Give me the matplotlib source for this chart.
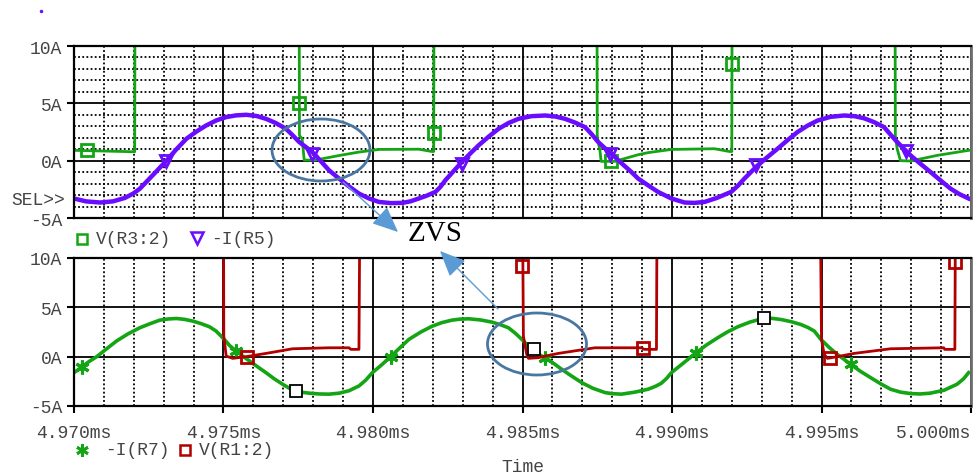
import numpy as np
import matplotlib.pyplot as plt
from matplotlib.patches import Ellipse
from matplotlib.ticker import FixedLocator

T0 = 4.970  # ms, left end of the time axis

# upper plot, times in us after T0
t_r3 = [0, 1.97, 2.03, 2.04, 7.53, 7.54, 7.63, 7.70, 8.07, 8.87, 9.53, 10.2, 11.53, 11.97, 12.03,
        12.04, 17.49, 17.50, 17.59, 17.63, 18.09, 18.87, 19.2, 19.98, 21.42, 21.92, 22.0,
        22.01, 27.46, 27.47, 27.53, 27.64, 27.98, 28.87, 29.92, 30.0]
v_r3 = [0.9, 0.78, 0.78, 15, 15, 2.2, 1.9, 0.05, 0.05, 0.45, 0.75, 0.98, 1.0, 0.8, 0.8,
        15, 15, 2.06, 0.9, -0.06, -0.06, 0.52, 0.7, 0.98, 1.04, 0.8, 0.8,
        15, 15, 2.2, 1.04, 0.0, -0.03, 0.46, 0.9, 0.92]
mk_r3_t = [0.43, 7.53, 12.03, 17.96, 22.0]
mk_r3_v = [0.95, 5.0, 2.4, -0.06, 8.4]

t_r5 = [0, 0.4, 0.87, 1.3, 1.7, 1.98, 2.2, 2.42, 2.75, 3.09, 3.42, 3.76, 4.1, 4.42, 4.75,
        5.09, 5.42, 5.76, 6.1, 6.42, 6.75, 7.09, 7.3, 7.53, 7.8, 8.03, 8.28, 8.53, 8.87,
        9.2, 9.53, 9.87, 10.2, 10.6, 10.98, 11.25, 11.53, 11.8, 12.09, 12.25, 12.42, 12.7,
        12.98, 13.25, 13.53, 13.87, 14.2, 14.53, 14.87, 15.3, 15.76, 16.1, 16.42, 16.75,
        17.09, 17.3, 17.53, 17.75, 17.98, 18.3, 18.64, 18.87, 19.2, 19.53, 19.98, 20.42,
        20.75, 21.09, 21.5, 21.98, 22.2, 22.42, 22.87, 23.2, 23.53, 23.87, 24.2, 24.53,
        24.87, 25.3, 25.76, 26.1, 26.42, 26.75, 27.09, 27.3, 27.53, 27.75, 27.98, 28.3,
        28.64, 28.98, 29.31, 29.6, 29.92]
i_r5 = [-3.3, -3.55, -3.65, -3.55, -3.25, -2.87, -2.45, -1.85, -0.95, 0.0, 0.98, 1.91, 2.55,
        3.07, 3.5, 3.8, 3.95, 4.0, 3.9, 3.65, 3.28, 2.78, 2.25, 1.63, 1.1, 0.6, -0.12, -0.84,
        -1.57, -2.25, -2.87, -3.3, -3.6, -3.7, -3.68, -3.55, -3.3, -3.05, -2.72, -2.3, -1.71,
        -0.9, -0.1, 0.62, 1.33, 2.1, 2.78, 3.28, 3.65, 3.88, 3.94, 3.85, 3.65, 3.33,
        2.93, 2.35, 1.63, 1.1, 0.6, -0.2, -0.98, -1.57, -2.15, -2.72, -3.3, -3.65,
        -3.68, -3.6, -3.25, -2.72, -2.2, -1.57, -0.4, 0.33, 1.04, 1.8, 2.5, 3.05,
        3.5, 3.82, 3.94, 3.88, 3.7, 3.37, 2.93, 2.3, 1.63, 1.05, 0.46, -0.25,
        -0.98, -1.72, -2.43, -2.9, -3.3]
mk_r5_t = [3.09, 7.97, 12.97, 17.92, 22.8, 27.83]
mk_r5_v = [0.0, 0.6, -0.26, 0.6, -0.4, 0.82]

# lower plot
t_r7 = [0, 0.26, 0.5, 0.76, 1.1, 1.42, 1.8, 2.2, 2.55, 2.87, 3.15, 3.42, 3.7, 3.98, 4.25,
        4.53, 4.75, 4.92, 5.07, 5.2, 5.42, 5.65, 5.87, 6.15, 6.42, 6.7, 6.98, 7.2, 7.42,
        7.65, 7.87, 8.2, 8.53, 8.87, 9.2, 9.53, 9.75, 9.98, 10.3, 10.59, 10.9, 11.2, 11.6,
        11.98, 12.3, 12.64, 12.9, 13.2, 13.6, 13.98, 14.25, 14.53, 14.75, 14.98, 15.2,
        15.42, 15.76, 16.05, 16.31, 16.65, 16.98, 17.35, 17.76, 18.0, 18.31, 18.75, 19.2,
        19.45, 19.64, 19.82, 19.98, 20.4, 20.81, 21.15, 21.53, 21.85, 22.2, 22.6, 23.07,
        23.35, 23.64, 23.98, 24.31, 24.55, 24.76, 24.98, 25.25, 25.53, 25.98, 26.3, 26.64,
        26.98, 27.31, 27.65, 27.98, 28.3, 28.64, 29.1, 29.53, 29.75, 29.92]
i_r7 = [-1.62, -1.05, -0.5, 0.0, 0.82, 1.58, 2.3, 2.93, 3.35, 3.7, 3.82, 3.87, 3.78, 3.6, 3.35,
        3.03, 2.6, 2.08, 1.6, 1.14, 0.57, 0.05, -0.44, -1.05, -1.62, -2.25, -2.8, -3.2, -3.47,
        -3.62, -3.7, -3.78, -3.8, -3.7, -3.45, -2.97, -2.4, -1.62, -0.8, 0.0, 0.9, 1.75, 2.5,
        3.09, 3.45, 3.7, 3.8, 3.84, 3.72, 3.5, 3.25, 2.93, 2.4, 1.75, 1.05,
        0.4, -0.1, -0.7, -1.28, -1.98, -2.63, -3.2, -3.64, -3.75, -3.8, -3.6, -3.3,
        -3.0, -2.7, -2.2, -1.62, -0.6, 0.4, 1.18, 1.92, 2.5, 3.03, 3.5, 3.9,
        3.88, 3.77, 3.55, 3.26, 2.95, 2.59, 1.75, 0.95, 0.23, -0.78, -1.48, -2.12,
        -2.75, -3.3, -3.6, -3.74, -3.78, -3.7, -3.4, -2.8, -2.25, -1.62]
mk_r7_t = [0.26, 5.42, 10.59, 15.76, 20.81, 25.98]
mk_r7_v = [-1.05, 0.57, 0.0, -0.1, 0.4, -0.78]

t_r1 = [0, 5.0, 5.01, 5.09, 5.31, 5.76, 6.42, 7.31, 8.53, 9.2, 9.26, 9.53, 9.56,
        15.0, 15.03, 15.14, 15.2, 15.53, 15.76, 16.2, 17.42, 18.98, 19.07, 19.48, 19.5,
        24.96, 25.0, 25.09, 25.2, 25.53, 26.09, 27.31, 29.09, 29.12, 29.46, 29.48, 30.0]
v_r1 = [15, 15, 2.08, 0.06, -0.17, 0.0, 0.33, 0.8, 0.9, 0.9, 0.74, 0.74, 15,
        15, 2.08, 0.23, -0.17, -0.1, 0.06, 0.33, 0.9, 0.9, 0.74, 0.74, 15,
        15, 1.75, 0.23, -0.17, 0.0, 0.33, 0.8, 0.9, 0.74, 0.74, 15, 15]
mk_r1_t = [5.78, 15.0, 19.03, 25.29, 29.48]
mk_r1_v = [0.0, 9.2, 0.9, -0.17, 9.55]

# hollow black squares on the lower plot
mk_k_t = [7.42, 15.37, 23.07]
mk_k_v = [-3.47, 0.74, 3.9]

ticks_ms = np.round(T0 + np.arange(7) * 0.005, 3)
tick_names = ['%.3fms' % v for v in ticks_ms]

GREEN = '#14a514'
PURPLE = '#6a0cff'
RED = '#b00000'
TXT = '#444444'
MONO = 'Liberation Mono'


def ms(us):
    return T0 + np.array(us) / 1000.0


W, H = 973, 477
fig = plt.figure(figsize=(W / 100, H / 100), dpi=100)


def px_axes(left, top, right, bottom):
    return fig.add_axes([left / W, 1 - bottom / H, (right - left) / W, (bottom - top) / H])


def style(ax, hminor):
    ax.set_xlim(T0, 5.000)
    ax.set_ylim(-5, 10)
    ax.xaxis.set_major_locator(FixedLocator(ticks_ms))
    ax.xaxis.set_minor_locator(FixedLocator(np.round(T0 + np.arange(31) * 0.001, 3)))
    ax.yaxis.set_major_locator(FixedLocator([-5, 0, 5, 10]))
    ax.set_yticklabels(['-5A', '0A', '5A', '10A'])
    if hminor:
        ax.yaxis.set_minor_locator(FixedLocator(np.arange(-5, 11)))
    ax.grid(which='major', color='black', lw=1.3)
    ax.grid(which='minor', axis='both' if hminor else 'x', color='black', lw=1.3,
            ls=(0, (1, 1.3)))
    ax.set_axisbelow(True)
    ax.tick_params(which='minor', length=0)
    ax.tick_params(axis='y', which='major', length=5, width=1.5, pad=3.5,
                   labelsize=13, labelcolor=TXT)
    for lab in ax.get_yticklabels():
        lab.set_family(MONO)
    for s in ['left', 'top', 'bottom']:
        ax.spines[s].set_color('black')
        ax.spines[s].set_linewidth(1.6)
    ax.spines['right'].set_color('#6e6e6e')
    ax.spines['right'].set_linewidth(2)


ax1 = px_axes(74, 47, 971, 219)
ax2 = px_axes(74, 259, 971, 407)
style(ax1, True)
style(ax2, False)

ax1.tick_params(axis='x', which='major', length=0, labelbottom=False)
ax2.tick_params(axis='x', which='major', length=5, width=1.5, pad=8,
                labelsize=13, labelcolor=TXT)
ax2.set_xticklabels(tick_names)
for lab in ax2.get_xticklabels():
    lab.set_family(MONO)
ax2.get_xticklabels()[-1].set_horizontalalignment('right')

# upper traces
ax1.plot(ms(t_r3), v_r3, color=GREEN, lw=2)
ax1.plot(ms(mk_r3_t), mk_r3_v, ls='none', marker='s', ms=8, mfc='none', mec=GREEN, mew=2)
ax1.plot(ms(t_r5), i_r5, color=PURPLE, lw=3.2, solid_joinstyle='round')
ax1.plot(ms(mk_r5_t), mk_r5_v, ls='none', marker='v', ms=9, mfc='none', mec=PURPLE, mew=2)

# lower traces
ax2.plot(ms(t_r7), i_r7, color=GREEN, lw=2.6, solid_joinstyle='round')
ax2.plot(ms(mk_r7_t), mk_r7_v, ls='none', marker=(6, 2, 0), ms=10, mec=GREEN, mew=2.2)
ax2.plot(ms(t_r1), v_r1, color=RED, lw=2)
ax2.plot(ms(mk_r1_t), mk_r1_v, ls='none', marker='s', ms=8, mfc='none', mec=RED, mew=2)
ax2.plot(ms(mk_k_t), mk_k_v, ls='none', marker='s', ms=9, mfc='white', mec='black', mew=1.3,
         zorder=5)

# overlay in pixel units for legends and annotations
ov = fig.add_axes([0, 0, 1, 1])
ov.set_xlim(0, W)
ov.set_ylim(H, 0)
ov.axis('off')
ov.patch.set_alpha(0)

txt = dict(family=MONO, fontsize=13, color=TXT, va='center')
ov.plot([82], [240], marker='s', ms=7, mfc='none', mec=GREEN, mew=1.8)
ov.text(96, 240, 'V(R3:2)', **txt)
ov.plot([197], [239], marker='v', ms=8, mfc='none', mec=PURPLE, mew=1.8)
ov.text(211, 240, '-I(R5)', **txt)
ov.text(11, 201, 'SEL>>', **txt)

ov.plot([82], [451], marker=(6, 2, 0), ms=9, mec=GREEN, mew=2)
ov.text(105, 451, '-I(R7)', **txt)
ov.plot([185], [451], marker='s', ms=7, mfc='none', mec=RED, mew=1.8)
ov.text(199, 451, 'V(R1:2)', **txt)
ov.text(523, 468, 'Time', ha='center', family=MONO, fontsize=13, color=TXT, va='center')

ov.plot([41], [12], marker='o', ms=2.5, color=PURPLE, mew=0)

ov.add_patch(Ellipse((321, 151), 98, 62, fill=False, ec='#4a77a0', lw=2))
ov.add_patch(Ellipse((537, 345), 99, 62, fill=False, ec='#4a77a0', lw=2))
arrow = dict(arrowstyle='-|>,head_length=0.8,head_width=0.35', color='#5b9bd5', lw=1,
             mutation_scale=20, shrinkA=0, shrinkB=0)
ov.annotate('', xy=(398, 233), xytext=(343, 183), arrowprops=arrow)
ov.annotate('', xy=(440, 252), xytext=(498, 310), arrowprops=arrow)
ov.text(435, 234, 'ZVS', family='Liberation Serif', fontsize=21, ha='center', va='center',
        color='black')

fig.savefig('out.png', dpi=100)
